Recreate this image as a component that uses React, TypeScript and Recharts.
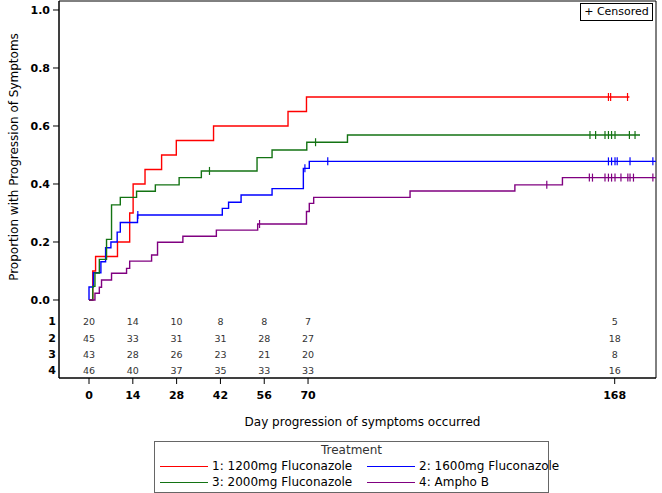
import React from 'react';
import { ComposedChart, Line, Scatter, XAxis, YAxis, ReferenceArea } from 'recharts';

// Kaplan-Meier style step curves: event times (days) and cumulative proportion
const redDays = [0, 1.2, 2.1, 9.1, 13.0, 14.1, 17.9, 23.2, 27.9, 39.8, 63.6, 69.5, 172.7];
const redProp = [0, 0.1, 0.15, 0.2, 0.3, 0.4, 0.45, 0.5, 0.55, 0.6, 0.65, 0.7, 0.7];
const redCensored = [166.0, 166.7, 172.1];

const blueDays = [0, 0, 1.4, 3.8, 5.3, 7.0, 9.0, 10.0, 15.5, 42.6, 44.6, 48.6, 58.5, 68.5, 70.4, 181.2];
const blueProp = [0, 0.045, 0.094, 0.132, 0.18, 0.2, 0.234, 0.267, 0.293, 0.316, 0.337, 0.362, 0.384, 0.454, 0.478, 0.478];
const blueCensored = [15.6, 69.0, 76.3, 166.0, 167.0, 168.1, 168.8, 172.9, 180.2];

const greenDays = [0, 1.2, 1.9, 3.3, 5.6, 7.2, 10.0, 15.2, 21.2, 28.8, 35.9, 53.7, 58.5, 69.6, 82.6, 176.1];
const greenProp = [0, 0.047, 0.093, 0.14, 0.209, 0.328, 0.354, 0.375, 0.397, 0.422, 0.445, 0.491, 0.517, 0.544, 0.569, 0.569];
const greenCensored = [38.5, 72.4, 160.1, 161.9, 164.9, 166.0, 167.0, 168.1, 172.7, 174.5];

const purpleDays = [0, 1.9, 3.3, 4.0, 7.2, 12.0, 13.0, 20.0, 21.9, 30.0, 40.7, 53.9, 69.5, 70.4, 71.8, 102.6, 136.1, 151.3, 181.2];
const purpleProp = [0, 0.023, 0.044, 0.069, 0.092, 0.109, 0.134, 0.155, 0.199, 0.22, 0.241, 0.262, 0.305, 0.333, 0.354, 0.376, 0.397, 0.422, 0.422];
const purpleCensored = [54.5, 146.3, 159.9, 160.9, 164.9, 166.0, 167.0, 168.1, 170.0, 172.2, 172.9, 174.0, 180.2];

// numbers at risk
const riskDays = [0, 14, 28, 42, 56, 70, 168];
const risk1 = [20, 14, 10, 8, 8, 7, 5];
const risk2 = [45, 33, 31, 31, 28, 27, 18];
const risk3 = [43, 28, 26, 23, 21, 20, 8];
const risk4 = [46, 40, 37, 35, 33, 33, 16];
const riskLabels = ['1', '2', '3', '4'];

const xTicks = [0, 14, 28, 42, 56, 70, 168];
const yTicks = [0, 0.2, 0.4, 0.6, 0.8, 1.0];

const X_MIN = -9.59;
const X_MAX = 181.2;
const Y_MIN = -0.269;
const Y_MAX = 1.031;
// rows of the at-risk table sit below 0 inside the plot frame
const riskRowY = [-0.075, -0.132, -0.189, -0.2425];

const FONT = '"DejaVu Sans", Verdana, sans-serif';

const toPoints = (days: number[], prop: number[]) => days.map((d, i) => ({ x: d, y: prop[i] }));

const stepAt = (days: number[], prop: number[], t: number) => {
  let v = prop[0];
  days.forEach((d, i) => {
    if (d <= t) v = prop[i];
  });
  return v;
};

const censorPoints = (days: number[], prop: number[], cens: number[]) =>
  cens.map((t) => ({ x: t, y: stepAt(days, prop, t) }));

const series = [
  { name: '1: 1200mg Fluconazole', color: '#ff0000', days: redDays, prop: redProp, cens: redCensored },
  { name: '2: 1600mg Fluconazole', color: '#0000ff', days: blueDays, prop: blueProp, cens: blueCensored },
  { name: '3: 2000mg Fluconazole', color: '#137313', days: greenDays, prop: greenProp, cens: greenCensored },
  { name: '4: Ampho B', color: '#800080', days: purpleDays, prop: purpleProp, cens: purpleCensored },
];

const riskRows = [risk1, risk2, risk3, risk4];
const riskData = riskRows.flatMap((row, r) => row.map((n, i) => ({ x: riskDays[i], y: riskRowY[r], n })));
const riskLabelData = riskLabels.map((label, r) => ({ x: X_MIN, y: riskRowY[r], label }));

const censorShape = (color: string) => (props: any) => (
  <line x1={props.cx} x2={props.cx} y1={props.cy - 4} y2={props.cy + 4} stroke={color} strokeWidth={1.2} />
);

const riskShape = (props: any) => (
  <text x={props.cx} y={props.cy} textAnchor="middle" dominantBaseline="central" fontSize={9.5} fill="#333" fontFamily={FONT}>
    {props.payload.n}
  </text>
);

const riskLabelShape = (props: any) => (
  <text x={props.cx - 3} y={props.cy} textAnchor="end" dominantBaseline="central" fontSize={11} fontWeight="bold" fill="#000" fontFamily={FONT}>
    {props.payload.label}
  </text>
);

const YLabel = () => (
  <text x={14} y={157} transform="rotate(-90, 14, 157)" textAnchor="middle" dominantBaseline="central" fontSize={12} fill="#000" fontFamily={FONT}>
    Proportion with Progression of Symptoms
  </text>
);

const legendItem = (s: { name: string; color: string }, left: number, top: number) => (
  <div key={s.name} style={{ position: 'absolute', left, top, display: 'flex', alignItems: 'center', whiteSpace: 'nowrap' }}>
    <span style={{ display: 'inline-block', width: 48, borderTop: `1.3px solid ${s.color}`, marginRight: 4 }} />
    <span>{s.name}</span>
  </div>
);

const App: React.FC = () => {
  return (
    <div style={{ position: 'absolute', left: 0, top: 0, width: 662, height: 493, background: '#fff', fontFamily: FONT }}>
      <ComposedChart width={662} height={493} margin={{ top: 1, right: 6, bottom: 0, left: 0 }}>
        <XAxis
          dataKey="x"
          type="number"
          domain={[X_MIN, X_MAX]}
          ticks={xTicks}
          interval={0}
          tickSize={6}
          tickMargin={7}
          height={115}
          stroke="#000"
          tick={{ fill: '#000', fontSize: 11, fontWeight: 'bold', fontFamily: FONT }}
          label={{ value: 'Day progression of symptoms occurred', position: 'insideTop', offset: 39, dx: 5, fill: '#000', fontSize: 12, fontFamily: FONT }}
        />
        <YAxis
          dataKey="y"
          type="number"
          domain={[Y_MIN, Y_MAX]}
          ticks={yTicks}
          interval={0}
          width={59}
          tickSize={6}
          tickMargin={3}
          stroke="#000"
          tickFormatter={(v: number) => v.toFixed(1)}
          tick={{ fill: '#000', fontSize: 11, fontWeight: 'bold', fontFamily: FONT }}
          label={<YLabel />}
        />
        <ReferenceArea x1={X_MIN} x2={X_MAX} y1={Y_MIN} y2={Y_MAX} fill="none" stroke="#000" strokeWidth={1} fillOpacity={0} />
        {series.map((s) => (
          <Line
            key={s.name}
            data={toPoints(s.days, s.prop)}
            dataKey="y"
            type="stepAfter"
            stroke={s.color}
            strokeWidth={1.4}
            dot={false}
            activeDot={false}
            isAnimationActive={false}
          />
        ))}
        {series.map((s) => (
          <Scatter
            key={s.name + '-cens'}
            data={censorPoints(s.days, s.prop, s.cens)}
            dataKey="y"
            shape={censorShape(s.color)}
            isAnimationActive={false}
          />
        ))}
        <Scatter data={riskData} dataKey="y" shape={riskShape} isAnimationActive={false} />
        <Scatter data={riskLabelData} dataKey="y" shape={riskLabelShape} isAnimationActive={false} />
      </ComposedChart>

      <div
        style={{
          position: 'absolute', left: 580, top: 3, width: 71, height: 16, border: '1px solid #000',
          fontSize: 11, lineHeight: '16px', textAlign: 'center', color: '#000',
        }}
      >
        + Censored
      </div>

      <div
        style={{
          position: 'absolute', left: 154, top: 441, width: 393, height: 50, border: '1px solid #666',
          fontSize: 12, color: '#000',
        }}
      >
        <div style={{ position: 'absolute', left: 0, right: 0, top: 1, textAlign: 'center', color: '#333' }}>Treatment</div>
        {legendItem(series[0], 5, 17)}
        {legendItem(series[1], 212, 17)}
        {legendItem(series[2], 5, 33)}
        {legendItem(series[3], 212, 33)}
      </div>
    </div>
  );
};

export default App;
